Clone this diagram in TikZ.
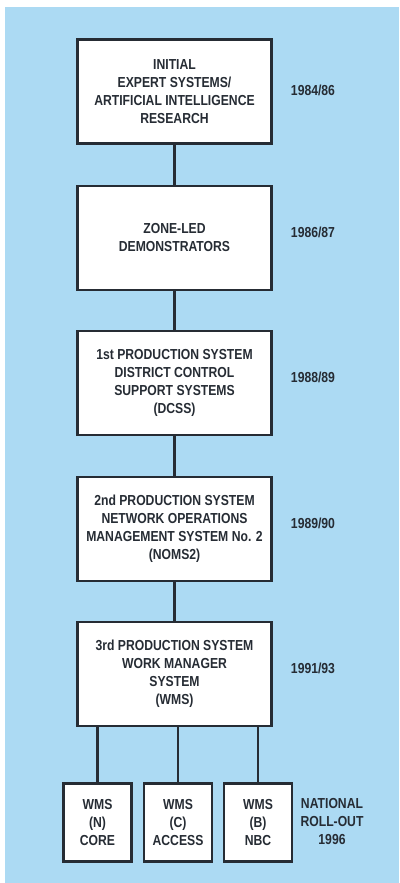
\documentclass[tikz,border=0pt]{standalone}
\usepackage{fontspec}
\setmainfont[FakeStretch=0.84]{Liberation Sans}
\definecolor{bgblue}{RGB}{172,218,243}
\definecolor{ink}{RGB}{38,44,52}
\begin{document}
\begin{tikzpicture}[x=1pt,y=-1pt,
  lbl/.style={font=\bfseries\fontsize{14.5}{18}\selectfont, text=ink, align=center, inner sep=0pt},
  bigbox/.style={lbl, draw=ink, line width=2.8pt, fill=white, minimum width=194pt, minimum height=104pt},
  smallbox/.style={lbl, draw=ink, line width=2.8pt, fill=white, minimum width=68pt, minimum height=78pt},
  link/.style={draw=ink, line width=2.5pt}]
\useasboundingbox (0,0) rectangle (399,883);
\fill[bgblue] (5,7) rectangle (399,883);
\node[bigbox] (b1) at (174.5,91.5) {INITIAL\\EXPERT SYSTEMS/\\ARTIFICIAL INTELLIGENCE\\RESEARCH};
\node[bigbox] (b2) at (174.5,238) {ZONE-LED\\DEMONSTRATORS};
\node[bigbox] (b3) at (174.5,383) {1st PRODUCTION SYSTEM\\DISTRICT CONTROL\\SUPPORT SYSTEMS\\(DCSS)};
\node[bigbox] (b4) at (174.5,529) {2nd PRODUCTION SYSTEM\\NETWORK OPERATIONS\\MANAGEMENT SYSTEM No. 2\\(NOMS2)};
\node[bigbox] (b5) at (174.5,674) {3rd PRODUCTION SYSTEM\\WORK MANAGER\\SYSTEM\\(WMS)};
\node[smallbox] (s1) at (97.5,822.5) {WMS\\(N)\\CORE};
\node[smallbox] (s2) at (178,822.5) {WMS\\(C)\\ACCESS};
\node[smallbox] (s3) at (258,822.5) {WMS\\(B)\\NBC};
\node[lbl] (y1) at (313,90) {1984/86};
\node[lbl] (y2) at (313,232) {1986/87};
\node[lbl] (y3) at (313,377) {1988/89};
\node[lbl] (y4) at (313,523) {1989/90};
\node[lbl] (y5) at (313,668) {1991/93};
\node[lbl] (y6) at (332,821) {NATIONAL\\ROLL-OUT\\1996};
\draw[link] (b1.south) -- (b2.north);
\draw[link] (b2.south) -- (b3.north);
\draw[link] (b3.south) -- (b4.north);
\draw[link] (b4.south) -- (b5.north);
\draw[link] (b5.south -| s1.north) -- (s1.north);
\draw[link] (b5.south -| s2.north) -- (s2.north);
\draw[link] (b5.south -| s3.north) -- (s3.north);
\end{tikzpicture}
\end{document}
